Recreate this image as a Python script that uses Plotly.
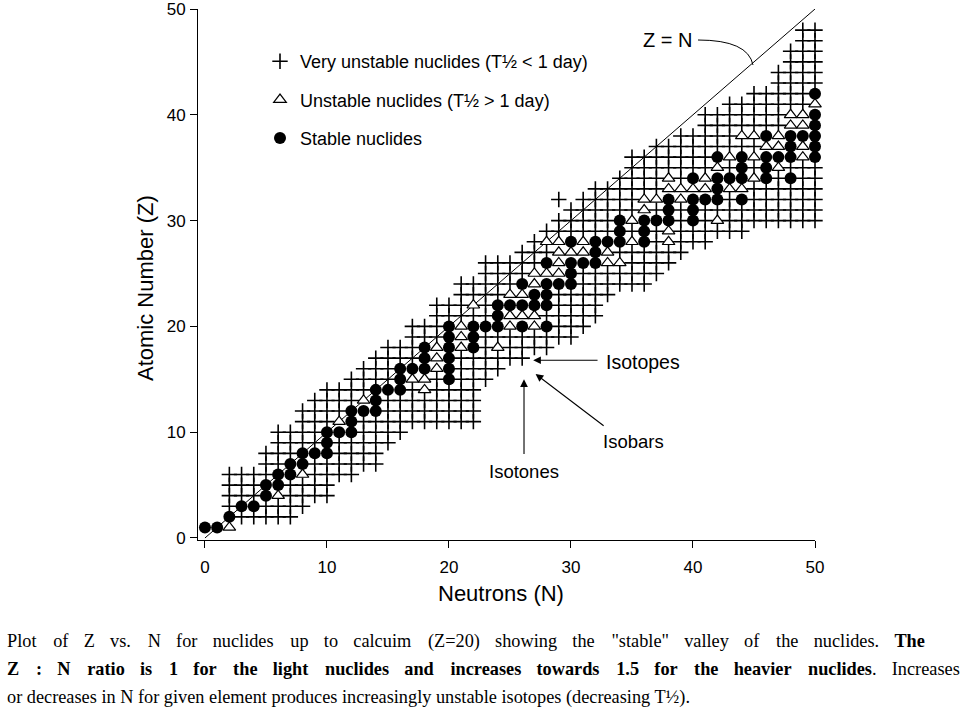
import plotly.graph_objects as go

# ---------------- data ----------------
# Column ranges (N, lowest Z, highest Z) of the grid of known nuclides;
# cells not holding a stable/unstable marker are "very unstable" (+)
col_N   = [2, 3, 4, 5, 6, 7, 8, 9, 10, 11, 12, 13, 14, 15, 16, 17, 18, 19, 20, 21, 22, 23, 24, 25,
           26, 27, 28, 29, 30, 31, 32, 33, 34, 35, 36, 37, 38, 39, 40, 41, 42, 43, 44, 45, 46, 47,
           48, 49, 50]
col_zlo = [1, 2, 2, 2, 2, 2, 3, 4, 4, 6, 6, 7, 7, 9, 10, 11, 11, 11, 11, 11, 11, 15, 16, 17,
           17, 18, 18, 19, 19, 20, 21, 23, 24, 24, 24, 25, 26, 27, 28, 28, 29, 29, 29, 30, 30, 30,
           30, 30, 30]
col_zhi = [6, 6, 6, 8, 10, 10, 12, 13, 14, 14, 15, 16, 17, 18, 18, 20, 20, 22, 22, 24, 24, 26, 26, 26,
           27, 28, 29, 30, 31, 32, 33, 33, 34, 36, 36, 37, 37, 38, 38, 40, 40, 41, 41, 42, 42, 44,
           46, 48, 48]
extra_plus_N = [29]
extra_plus_Z = [32]

# Stable nuclides
stable_N = [0, 1, 2, 3, 4, 5, 5, 6, 6, 7, 7, 8, 8, 9, 10, 10, 10, 11, 12, 12, 12, 13, 14, 14, 14, 15,
            16, 16, 20, 16, 17, 18, 20, 18, 20, 18, 20, 22, 20, 22, 20, 22, 23, 24, 26, 28, 24, 24,
            25, 26, 27, 28, 27, 28, 26, 28, 29, 30, 30, 28, 30, 31, 32, 32, 30, 32, 33, 34, 36, 34,
            36, 34, 36, 37, 38, 40, 38, 40, 38, 40, 41, 42, 44, 42, 40, 42, 43, 44, 46, 48, 44, 46,
            42, 44, 46, 47, 48, 50, 48, 50, 46, 48, 49, 50, 50, 50, 50]
stable_Z = [1, 1, 2, 3, 3, 4, 5, 5, 6, 6, 7, 7, 8, 8, 8, 9, 10, 10, 10, 11, 12, 12, 12, 13, 14, 14,
            14, 15, 15, 16, 16, 16, 16, 17, 17, 18, 18, 18, 19, 19, 20, 20, 20, 20, 20, 20, 21, 22,
            22, 22, 22, 22, 23, 23, 24, 24, 24, 24, 25, 26, 26, 26, 26, 27, 28, 28, 28, 28, 28, 29,
            29, 30, 30, 30, 30, 30, 31, 31, 32, 32, 32, 32, 32, 33, 34, 34, 34, 34, 34, 34, 35, 35,
            36, 36, 36, 36, 36, 36, 37, 37, 38, 38, 38, 38, 39, 40, 42]

# Unstable nuclides (T1/2 > 1 day)
unst_N = [2, 6, 8, 11, 13, 18, 17, 18, 19, 19, 19, 21, 24, 21, 21, 25, 27, 25, 26, 27, 22, 25, 26,
          27, 27, 28, 29, 29, 33, 34, 29, 30, 31, 33, 28, 29, 31, 35, 38, 38, 35, 42, 36, 36, 37,
          39, 38, 39, 40, 41, 43, 44, 38, 41, 45, 42, 47, 43, 45, 49, 46, 47, 49, 44, 45, 47, 48,
          49, 48, 49, 50]
unst_Z = [1, 4, 6, 11, 13, 14, 15, 15, 16, 17, 18, 18, 18, 19, 20, 20, 20, 21, 21, 21, 22, 23, 23,
          24, 25, 25, 25, 26, 26, 26, 27, 27, 27, 27, 28, 28, 28, 28, 28, 29, 30, 30, 31, 32, 32,
          32, 33, 33, 33, 33, 33, 33, 34, 34, 34, 35, 35, 36, 36, 36, 37, 37, 37, 38, 38, 38, 39,
          39, 40, 40, 41]

zn_line = [0, 50]
x_ticks = [0, 10, 20, 30, 40, 50]
y_ticks = [0, 10, 20, 30, 40, 50]

# ---------------- build plus grid from the column ranges ----------------
occupied = set(zip(stable_N, stable_Z)) | set(zip(unst_N, unst_Z))
plus_N, plus_Z = [], []
for n, lo, hi in zip(col_N, col_zlo, col_zhi):
    for z in range(lo, hi + 1):
        if (n, z) not in occupied:
            plus_N.append(n)
            plus_Z.append(z)
plus_N += extra_plus_N
plus_Z += extra_plus_Z

SANS = "Liberation Sans, Arial, sans-serif"
SERIF = "Liberation Serif, Times New Roman, serif"

fig = go.Figure()
fig.add_trace(go.Scatter(
    x=plus_N, y=plus_Z, mode="markers", name="Very unstable nuclides (T½ < 1 day)",
    legendgroup="a", cliponaxis=False,
    marker=dict(symbol="cross-thin", size=11, line=dict(width=1.6, color="black"), color="black")))
fig.add_trace(go.Scatter(
    x=zn_line, y=zn_line, mode="lines", showlegend=False, cliponaxis=False,
    line=dict(color="black", width=1)))
fig.add_trace(go.Scatter(
    x=unst_N, y=unst_Z, mode="markers", name="Unstable nuclides (T½ > 1 day)",
    legendgroup="b", cliponaxis=False,
    marker=dict(symbol="triangle-up", size=11, color="white", line=dict(width=1.2, color="black"))))
fig.add_trace(go.Scatter(
    x=stable_N, y=stable_Z, mode="markers", name="Stable nuclides",
    legendgroup="c", cliponaxis=False,
    marker=dict(symbol="circle", size=12, color="black", line=dict(width=0))))

L, R, T, B = 198, 815, 9, 540
W, H = 960, 711


def px(xp):
    return (xp - L) / (R - L)


def py(yp):
    return (B - yp) / (B - T)


axis_common = dict(showgrid=False, zeroline=False, showline=True, linecolor="black", linewidth=1,
                   ticks="outside", ticklen=7, tickwidth=1, tickcolor="black", automargin=False,
                   ticklabeloverflow="allow",
                   tickfont=dict(family=SANS, size=17, color="black"))
fig.update_xaxes(range=[-0.57, 50], tickvals=x_ticks, ticklabelstandoff=5, **axis_common)
fig.update_yaxes(range=[-0.19, 50], tickvals=y_ticks, ticklabelstandoff=1, **axis_common)

# widened word gaps: the first two caption lines are justified in the reference
GAP_WIDE = " \u2002\u2006"
GAP_NARROW = " \u2002\u200a"


def justify(s, pattern):
    words = s.split(" ")
    out = words[0]
    for i, w in enumerate(words[1:]):
        out += pattern[i % len(pattern)] + w
    return out


def label(text, x, y, size, **kw):
    d = dict(text=text, x=px(x), y=py(y), xref="paper", yref="paper", showarrow=False,
             xanchor="center", yanchor="middle", font=dict(family=SANS, size=size, color="black"))
    d.update(kw)
    return d


arrow = dict(text="", xref="x", yref="y", axref="x", ayref="y", showarrow=True,
             arrowhead=2, arrowsize=1.4, arrowwidth=1.1, arrowcolor="black")

cap_font = dict(family=SERIF, size=18.3, color="black")
annotations = [
    label("Neutrons (N)", 501, 593, 22),
    label("Atomic Number (Z)", 146, 288, 22, textangle=-90),
    label("Z = N", 667, 40, 20),
    label("Isotopes", 643, 362, 19.5),
    label("Isobars", 633, 441, 18.5),
    label("Isotones", 524, 471, 18.5),
    # arrows (tip at x,y ; tail at ax,ay in data units)
    dict(x=26.9, y=16.8, ax=32.3, ay=16.8, **arrow),
    dict(x=27.1, y=15.5, ax=32.8, ay=10.5, **arrow),
    dict(x=26.15, y=15.0, ax=26.15, ay=7.8, **arrow),
    # caption
    label(justify('Plot of Z vs. N for nuclides up to calcuim (Z=20) showing the "stable" valley of the nuclides. <b>The</b>',
                  [GAP_WIDE, GAP_NARROW, GAP_NARROW]),
          5, 641, 18, xanchor="left", font=cap_font),
    label("<b>" + justify("Z : N ratio is 1 for the light nuclides and increases towards 1.5 for the heavier nuclides</b>. Increases",
                          [GAP_WIDE, GAP_NARROW]),
          5, 669, 18, xanchor="left", font=cap_font),
    label("or decreases in N for given element produces increasingly unstable isotopes (decreasing T½).",
          5, 697, 18, xanchor="left", font=cap_font),
]

shapes = [dict(type="path", xref="paper", yref="paper",
               path=f"M {px(698)},{py(40)} Q {px(748)},{py(40)} {px(753)},{py(65)}",
               line=dict(color="black", width=1))]

fig.update_layout(
    width=W, height=H, margin=dict(l=L, r=W - R, t=T, b=H - B, autoexpand=False),
    plot_bgcolor="white", paper_bgcolor="white",
    annotations=annotations, shapes=shapes,
    legend=dict(x=px(260), y=py(43), xanchor="left", yanchor="top", tracegroupgap=12,
                font=dict(family=SANS, size=18, color="black"), bgcolor="rgba(0,0,0,0)"),
)

fig.write_html("out.html", config={"displayModeBar": False},
               post_script="document.body.style.margin='0px';")
